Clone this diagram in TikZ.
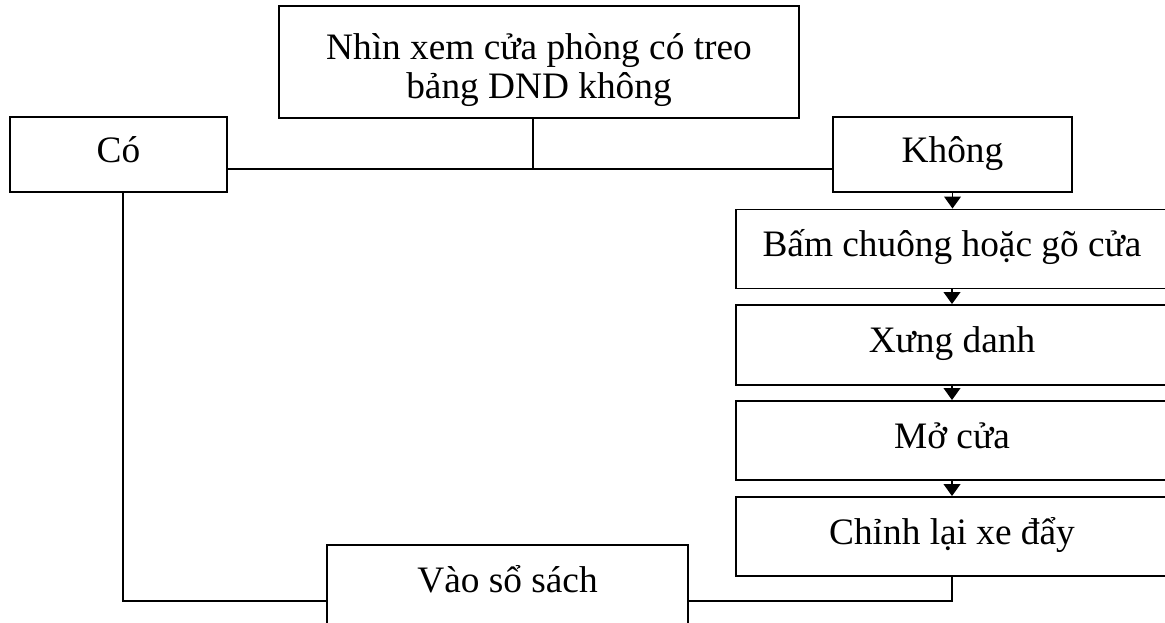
\documentclass[tikz,border=0pt]{standalone}
\usepackage{fontspec}
\setmainfont{Liberation Serif}
\usetikzlibrary{arrows.meta}
\begin{document}
\begin{tikzpicture}[x=0.75pt,y=-0.75pt,
  box/.style={draw,line width=1.4pt,rectangle,inner sep=0pt,
    font=\fontsize{28}{29.25}\selectfont},
  onel/.style={text height=18pt,text depth=6pt},
  link/.style={line width=1.4pt},
  arr/.style={line width=1.4pt,-{Triangle[width=12.5pt,length=9pt]}}]
\useasboundingbox (0,0) rectangle (1165,623);
\clip (0,0) rectangle (1165,623);
\node[box,align=center,minimum width=390pt,minimum height=84pt] (top) at (539,62)
  {\rule{0pt}{32pt}Nhìn xem cửa phòng có treo\\bảng DND không};
\node[box,onel,minimum width=162.75pt,minimum height=56.25pt] (co) at (118.5,154.5) {Có};
\node[box,onel,minimum width=179.25pt,minimum height=56.25pt] (khong) at (952.5,154.5) {Không};
\node[box,onel,minimum width=324pt,minimum height=59.25pt] (bam) at (952,249) {Bấm chuông hoặc gõ cửa};
\node[box,onel,minimum width=324pt,minimum height=60pt] (xung) at (952,345) {Xưng danh};
\node[box,onel,minimum width=324pt,minimum height=59.25pt] (mo) at (952,440.5) {Mở cửa};
\node[box,onel,minimum width=324pt,minimum height=59.25pt] (chinh) at (952,536.5) {Chỉnh lại xe đẩy};
\node[box,onel,minimum width=270.75pt,minimum height=60pt] (vao) at (507.5,585) {Vào sổ sách};
\coordinate (j) at (533,169);
\draw[link] (top.south -| j) -- (j);
\draw[link] (co.east |- j) -- (khong.west |- j);
\draw[arr] (khong.south) -- (khong.south |- bam.north);
\draw[arr] (bam.south) -- (xung.north);
\draw[arr] (xung.south) -- (mo.north);
\draw[arr] (mo.south) -- (chinh.north);
\draw[link] (chinh.south) |- ([yshift=-12pt]vao.east);
\draw[link] ([xshift=3.4pt]co.south) |- ([yshift=-12pt]vao.west);
\end{tikzpicture}
\end{document}
